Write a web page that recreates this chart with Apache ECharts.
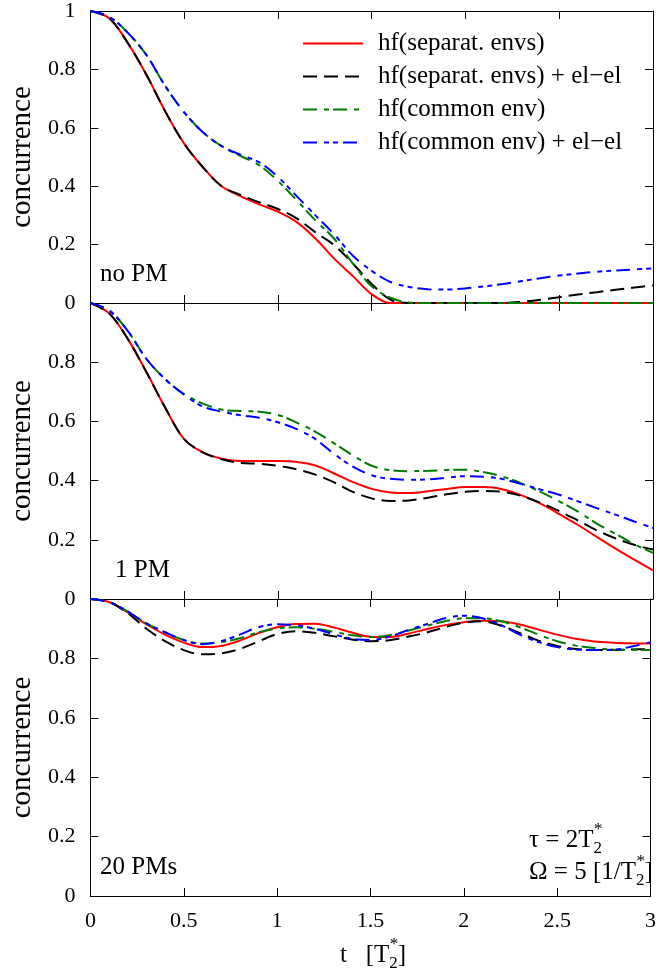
<!DOCTYPE html>
<html><head><meta charset="utf-8">
<script src="https://cdn.jsdelivr.net/npm/echarts@6/dist/echarts.min.js"></script>
<style>html,body{margin:0;padding:0;background:#fff}#c{width:659px;height:976px}</style>
</head><body><div id="c"></div><script>
// ---- data ----
const tVals = [0,0.1,0.2,0.3,0.4,0.5,0.6,0.7,0.8,0.9,1.0,1.1,1.2,1.3,1.4,1.5,1.6,1.7,1.8,1.9,2.0,2.1,2.2,2.3,2.4,2.5,2.6,2.7,2.8,2.9,3.0];
const xTicks = [0,0.5,1,1.5,2,2.5,3];
const yTicks = [0,0.2,0.4,0.6,0.8,1];
const seriesNames = ['hf(separat. envs)','hf(separat. envs) + el\u2212el','hf(common env)','hf(common env) + el\u2212el'];
const panelLabels = ['no PM','1 PM','20 PMs'];

const noPM_sep   = [1.0,0.975,0.89,0.78,0.655,0.546,0.465,0.40,0.366,0.338,0.313,0.277,0.221,0.152,0.092,0.03,0,0,0,0,0,0,0,0,0,0,0,0,0,0,0];
const noPM_sepEE = [1.0,0.975,0.89,0.78,0.655,0.546,0.465,0.40,0.37,0.345,0.322,0.29,0.242,0.198,0.135,0.065,0.012,0,0,0,0,0,0,0.004,0.011,0.02,0.029,0.037,0.045,0.053,0.06];
const noPM_com   = [1.0,0.98,0.925,0.848,0.742,0.653,0.585,0.537,0.504,0.472,0.418,0.352,0.283,0.22,0.135,0.057,0.018,0.002,0,0,0,0,0,0,0,0,0,0,0,0,0];
const noPM_comEE = [1.0,0.98,0.925,0.848,0.742,0.653,0.585,0.537,0.508,0.482,0.432,0.366,0.30,0.235,0.162,0.11,0.072,0.055,0.047,0.046,0.05,0.057,0.065,0.075,0.085,0.094,0.101,0.107,0.111,0.115,0.118];

const pm1_sep   = [1.0,0.965,0.878,0.765,0.645,0.54,0.495,0.474,0.466,0.466,0.466,0.463,0.451,0.424,0.395,0.372,0.36,0.358,0.364,0.372,0.378,0.378,0.37,0.35,0.322,0.287,0.25,0.21,0.17,0.133,0.097];
const pm1_sepEE = [1.0,0.965,0.878,0.765,0.645,0.54,0.495,0.472,0.46,0.457,0.45,0.438,0.42,0.394,0.362,0.34,0.331,0.333,0.342,0.354,0.362,0.365,0.362,0.348,0.325,0.297,0.265,0.232,0.205,0.183,0.167];
const pm1_com   = [1.0,0.975,0.905,0.81,0.742,0.692,0.66,0.64,0.635,0.633,0.622,0.596,0.565,0.526,0.485,0.45,0.435,0.432,0.433,0.436,0.437,0.428,0.413,0.39,0.362,0.33,0.295,0.255,0.22,0.185,0.156];
const pm1_comEE = [1.0,0.975,0.905,0.81,0.742,0.69,0.65,0.633,0.621,0.612,0.597,0.574,0.54,0.49,0.447,0.418,0.406,0.403,0.404,0.41,0.415,0.413,0.405,0.388,0.37,0.352,0.33,0.307,0.285,0.262,0.24];

const pm20_sep   = [1.0,0.99,0.955,0.915,0.88,0.853,0.838,0.842,0.86,0.885,0.905,0.916,0.917,0.905,0.887,0.873,0.872,0.883,0.898,0.912,0.922,0.927,0.925,0.914,0.897,0.88,0.866,0.857,0.853,0.851,0.85];
const pm20_sepEE = [1.0,0.99,0.952,0.9,0.858,0.828,0.814,0.817,0.832,0.857,0.882,0.891,0.886,0.875,0.864,0.858,0.861,0.873,0.887,0.905,0.92,0.925,0.91,0.885,0.86,0.842,0.832,0.828,0.828,0.83,0.831];
const pm20_com   = [1.0,0.99,0.958,0.918,0.888,0.862,0.85,0.855,0.868,0.888,0.9,0.905,0.9,0.89,0.878,0.872,0.878,0.893,0.91,0.925,0.935,0.935,0.925,0.905,0.88,0.858,0.843,0.835,0.83,0.829,0.828];
const pm20_comEE = [1.0,0.99,0.958,0.918,0.888,0.862,0.848,0.858,0.88,0.905,0.915,0.912,0.9,0.882,0.866,0.862,0.873,0.895,0.915,0.935,0.944,0.935,0.912,0.88,0.855,0.838,0.83,0.828,0.829,0.84,0.854];

const panelData = [
  [noPM_sep, noPM_sepEE, noPM_com, noPM_comEE],
  [pm1_sep, pm1_sepEE, pm1_com, pm1_comEE],
  [pm20_sep, pm20_sepEE, pm20_com, pm20_comEE]
];

// ---- styles ----
const FONT = '"Liberation Serif","Times New Roman",serif';
const colors = ['#ff0000','#000000','#007a00','#0000ff'];
const dashes = ['solid',[14,7],[14,7,5,4],[14,7,5,4,5,5]];
const widths = [2,2,2,2];
const gridTops = [7,303,599];
const gridHeights = [296,296,297];

const fmt = v => String(parseFloat(Number(v).toFixed(2)));

const grids=[], xAxes=[], yAxes=[], series=[];
for (let i=0;i<3;i++){
  grids.push({left:89, right:6, top:gridTops[i], height:gridHeights[i], show:false});
  const common = {type:'value', gridIndex:i, splitLine:{show:false},
    axisLine:{show:true, onZero:false, lineStyle:{color:'#000', width:1}},
    axisTick:{show:true, inside:true, length:8, lineStyle:{color:'#000', width:1}}};
  xAxes.push(Object.assign({}, common, {position:'bottom', min:xTicks[0], max:xTicks[xTicks.length-1], interval:xTicks[1]-xTicks[0],
    axisLabel:{show:i===2, fontFamily:FONT, fontSize:22, color:'#000', margin:14, formatter:fmt}}));
  xAxes.push(Object.assign({}, common, {position:'top', min:xTicks[0], max:xTicks[xTicks.length-1], interval:xTicks[1]-xTicks[0],
    axisLabel:{show:false}}));
  yAxes.push(Object.assign({}, common, {position:'left', min:yTicks[0], max:yTicks[yTicks.length-1], interval:yTicks[1]-yTicks[0],
    name:'concurrence', nameLocation:'middle', nameGap:48, nameRotate:90,
    nameTextStyle:{fontFamily:FONT, fontSize:29, color:'#000'},
    axisLabel:{fontFamily:FONT, fontSize:22, color:'#000', margin:15,
      formatter: v => (i>0 && Math.abs(v-1)<1e-9) ? '' : fmt(v)}}));
  yAxes.push(Object.assign({}, common, {position:'right', min:yTicks[0], max:yTicks[yTicks.length-1], interval:yTicks[1]-yTicks[0],
    axisLabel:{show:false}}));
  for (let s=0;s<4;s++){
    series.push({
      type:'line', name:seriesNames[s], xAxisIndex:2*i, yAxisIndex:2*i,
      data: tVals.map((t,k)=>[t, panelData[i][s][k]]),
      smooth:0.35, symbol:'none', silent:true, animation:false,
      lineStyle:{color:colors[s], width:widths[s], type:dashes[s]},
      itemStyle:{color:colors[s]}
    });
  }
}

// ---- text helpers ----
const cv = document.createElement('canvas').getContext('2d');
function tw(text, fs){ cv.font = fs+'px "Liberation Serif"'; return cv.measureText(text).width; }
function txt(text, x, baseline, fs){
  return {type:'text', x:x, y:baseline - 0.34*fs, silent:true,
    style:{text:text, font:fs+'px "Liberation Serif"', fill:'#000', align:'left', verticalAlign:'middle'}};
}
function t2star(x, baseline, before, after, fs, sfs){
  const els=[];
  els.push(txt(before, x, baseline, fs));
  const x2 = x + tw(before, fs);
  els.push(txt('2', x2, baseline+5, sfs));
  els.push(txt('*', x2+0.5, baseline-14, sfs));
  if (after) els.push(txt(after, x2 + tw('2', sfs), baseline, fs));
  return els;
}

const graphics = [];
graphics.push(txt(panelLabels[0], 100, 283, 25));
graphics.push(txt(panelLabels[1], 115, 579, 25));
graphics.push(txt(panelLabels[2], 100, 876, 25));
graphics.push(...t2star(529, 849, '\u03c4 = 2T', '', 25, 17));
graphics.push(...t2star(529, 881, '\u03a9 = 5 [1/T', ']', 25, 17));
graphics.push(...t2star(340, 964, 't   [T', ']', 25, 17));

const chart = echarts.init(document.getElementById('c'), null, {renderer:'canvas'});
chart.setOption({
  animation:false,
  backgroundColor:'#fff',
  grid:grids, xAxis:xAxes, yAxis:yAxes, series:series,
  legend:{data:seriesNames, orient:'vertical', left:302, top:31, padding:0, itemWidth:60, itemHeight:14, itemGap:8,
    selectedMode:false, itemStyle:{opacity:0},
    textStyle:{fontFamily:FONT, fontSize:25, color:'#000', lineHeight:25, padding:[0,0,0,10]}},
  graphic:graphics
});
</script></body></html>
